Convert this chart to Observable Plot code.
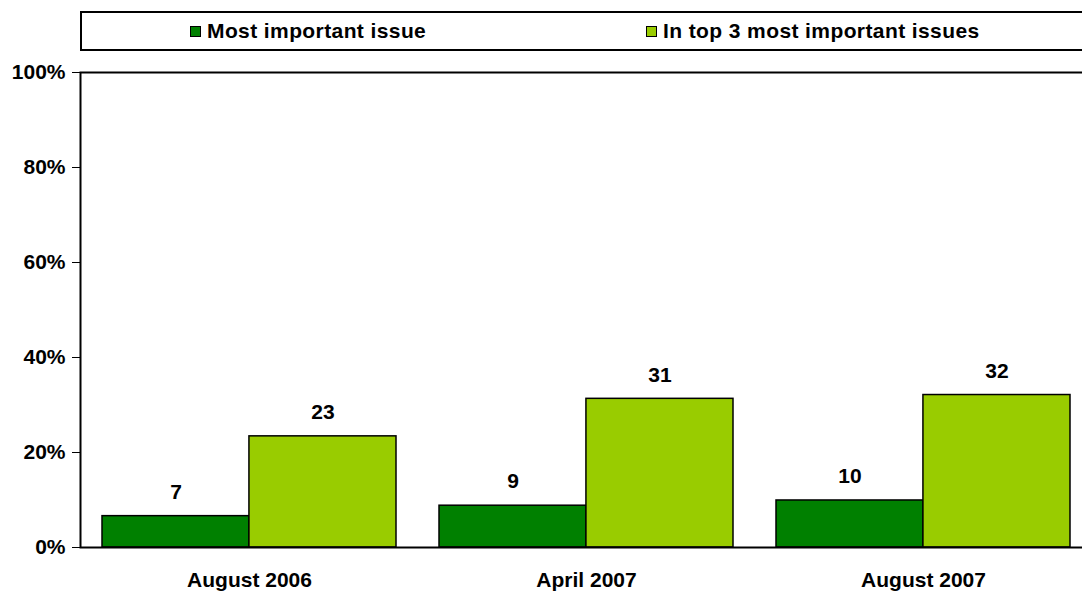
<!DOCTYPE html>
<html>
<head>
<meta charset="utf-8">
<script src="https://cdn.jsdelivr.net/npm/d3@7"></script>
<script src="https://cdn.jsdelivr.net/npm/@observablehq/plot@0.6"></script>
<style>
  html, body { margin: 0; padding: 0; background: #fff; overflow: hidden; width: 1082px; height: 592px; }
  #wrap { position: relative; width: 1082px; height: 592px; font-family: "Liberation Sans", Arial, sans-serif; overflow: hidden; }
  #legend { position: absolute; left: 80px; top: 11px; width: 1020px; height: 36px; border: 2px solid #000; box-sizing: content-box; font-weight: bold; font-size: 21px; letter-spacing: 0.4px; background: #fff; }
  .item { position: absolute; top: 0; height: 36px; display: flex; align-items: center; white-space: nowrap; }
  .sw { width: 9px; height: 9px; border: 1px solid #000; margin-right: 6px; }
  #chart { position: absolute; left: 0; top: 0; width: 1100px; }
  #chart svg { max-width: none !important; }
</style>
</head>
<body>
<div id="wrap">
  <div id="chart"></div>
  <div id="legend"></div>
</div>
<script>
const dates = ["August 2006", "April 2007", "August 2007"];
const series = ["Most important issue", "In top 3 most important issues"];
const colors = ["#008000", "#99cc00"];
const mostImportant = [6.6, 8.8, 9.9];
const top3 = [23.4, 31.3, 32.1];
const mostLabels = [7, 9, 10];
const top3Labels = [23, 31, 32];
const yTicks = [0, 20, 40, 60, 80, 100];

const mostData = dates.map((d, i) => ({date: d, series: series[0], value: mostImportant[i], label: mostLabels[i]}));
const top3Data = dates.map((d, i) => ({date: d, series: series[1], value: top3[i], label: top3Labels[i]}));

const W = 1091, ML = 80, MR = 0;
const padIn = 0.128, padOut = 0.064;
const step = (W - ML - MR) / (dates.length - padIn + 2 * padOut);
const half = step * (1 - padIn) / 2;

const chart = Plot.plot({
  width: W,
  height: 592,
  marginTop: 72,
  marginBottom: 45,
  marginLeft: ML,
  marginRight: MR,
  style: {fontFamily: "'Liberation Sans', Arial, sans-serif", fontSize: "21px", fontWeight: "bold", color: "#000", background: "transparent"},
  x: {domain: dates, paddingInner: padIn, paddingOuter: padOut, label: null, tickSize: 0, tickPadding: 25},
  y: {domain: [0, 100], ticks: yTicks, tickFormat: d => d + "%", label: null, tickSize: 8, tickPadding: 7},
  color: {domain: series, range: colors},
  marks: [
    Plot.barY(mostData, {x: "date", y: "value", fill: "series", stroke: "#000", strokeWidth: 1.5, insetRight: half}),
    Plot.barY(top3Data, {x: "date", y: "value", fill: "series", stroke: "#000", strokeWidth: 1.5, insetLeft: half}),
    Plot.text(mostData, {x: "date", y: "value", text: "label", dx: -half / 2, dy: -24, fontSize: 21, fontWeight: "bold", fill: "#000"}),
    Plot.text(top3Data, {x: "date", y: "value", text: "label", dx: half / 2, dy: -24, fontSize: 21, fontWeight: "bold", fill: "#000"}),
    Plot.frame({stroke: "#000", strokeWidth: 2})
  ]
});
document.getElementById("chart").appendChild(chart);

const legend = document.getElementById("legend");
const lefts = [108, 564];
series.forEach((s, i) => {
  const it = document.createElement("div");
  it.className = "item";
  it.style.left = lefts[i] + "px";
  const sw = document.createElement("div");
  sw.className = "sw";
  sw.style.background = colors[i];
  const t = document.createElement("span");
  t.textContent = s;
  it.appendChild(sw);
  it.appendChild(t);
  legend.appendChild(it);
});
</script>
</body>
</html>
